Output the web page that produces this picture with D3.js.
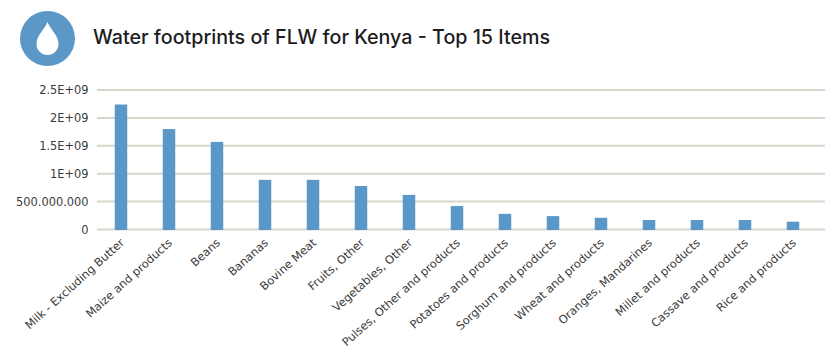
<!DOCTYPE html>
<html>
<head>
<meta charset="utf-8">
<script src="https://cdn.jsdelivr.net/npm/d3@7"></script>
<style>
  html, body { margin: 0; padding: 0; background: #fff; }
  svg { display: block; }
  .axis text { font-family: "DejaVu Sans", sans-serif; font-size: 11.4px; fill: #3a3a3a; }
  .title { font-family: "Inter", sans-serif; font-size: 19.7px; font-weight: 500; fill: #1d1d1f; }
</style>
</head>
<body>
<svg id="chart" width="840" height="363"></svg>
<script>
const items = ['Milk - Excluding Butter', 'Maize and products', 'Beans', 'Bananas', 'Bovine Meat',
  'Fruits, Other', 'Vegetables, Other', 'Pulses, Other and products', 'Potatoes and products',
  'Sorghum and products', 'Wheat and products', 'Oranges, Mandarines', 'Millet and products',
  'Cassave and products', 'Rice and products'];
const water = [2.24e9, 1.8e9, 1.57e9, 8.9e8, 8.9e8, 7.8e8, 6.2e8, 4.2e8, 2.8e8, 2.4e8, 2.1e8, 1.7e8, 1.7e8, 1.7e8, 1.4e8];
const ticks = [0, 5e8, 1e9, 1.5e9, 2e9, 2.5e9];
const tick_labels = ['0', '500.000.000', '1E+09', '1.5E+09', '2E+09', '2.5E+09'];

const blue = '#5b98c8';
const grid = '#d8d5cc';
const svg = d3.select('#chart');

const x = d3.scaleBand(items, [97, 817]).paddingInner(0.74).paddingOuter(0.37);
const y = d3.scaleLinear([0, 2.5e9], [229.5, 90]);

// Icon and title
const icon = svg.append('g').attr('transform', 'translate(47.5,38.5)');
icon.append('circle').attr('r', 27.5).attr('fill', blue);
icon.append('path')
  .attr('d', 'M0,-16.5 C3,-9 11,-3 11,5.5 A11,11 0 0 1 -11,5.5 C-11,-3 -3,-9 0,-16.5 Z')
  .attr('fill', '#fff');
svg.append('text').attr('class', 'title').attr('x', 93).attr('y', 44)
  .text('Water footprints of FLW for Kenya - Top 15 Items');

// Gridlines
svg.append('g').selectAll('line').data(ticks).join('line')
  .attr('x1', 97).attr('x2', 825)
  .attr('y1', d => y(d)).attr('y2', d => y(d))
  .attr('stroke', grid).attr('stroke-width', 2);

// Bars
svg.append('g').selectAll('rect').data(items).join('rect')
  .attr('x', d => x(d))
  .attr('y', (d, i) => y(water[i]))
  .attr('width', x.bandwidth())
  .attr('height', (d, i) => y(0) - y(water[i]) + 0.5)
  .attr('fill', blue);

// Axes
const y_axis = svg.append('g').attr('class', 'axis').attr('transform', 'translate(88.5,0)')
  .call(d3.axisLeft(y).tickValues(ticks).tickFormat((d, i) => tick_labels[i]).tickSize(0).tickPadding(0));
y_axis.select('.domain').remove();

const x_axis = svg.append('g').attr('class', 'axis').attr('transform', 'translate(0,229.5)')
  .call(d3.axisBottom(x).tickSize(0));
x_axis.select('.domain').remove();
x_axis.selectAll('text')
  .attr('text-anchor', 'end')
  .attr('dy', 0)
  .attr('transform', 'translate(2,12) rotate(-42)');
</script>
</body>
</html>
